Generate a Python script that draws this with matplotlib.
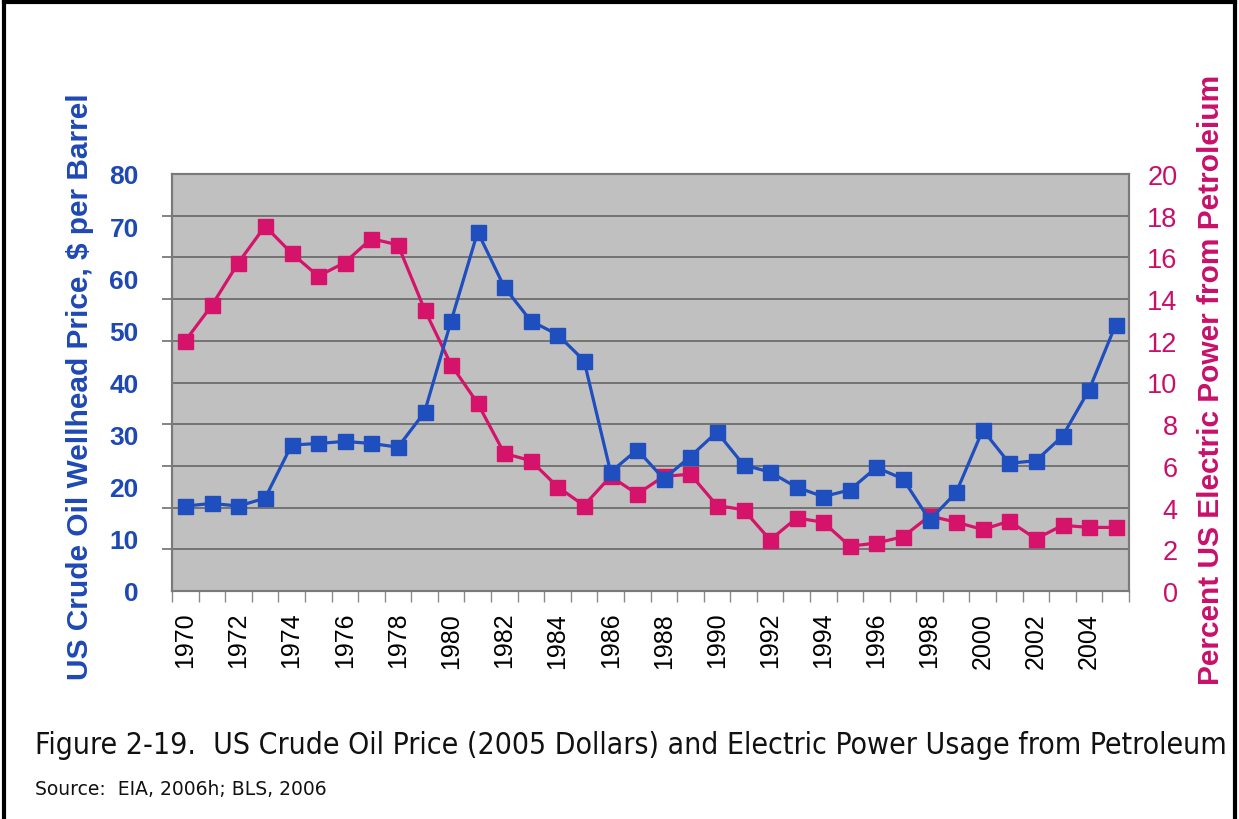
import matplotlib
matplotlib.use("Agg")
import matplotlib.pyplot as plt
from matplotlib.lines import Line2D
import numpy as np

years = list(range(1970, 2006))
oil_price = [16.3, 16.8, 16.3, 17.8, 28.0, 28.3, 28.7, 28.3, 27.6, 34.3,
             51.8, 68.9, 58.3, 51.8, 49.2, 44.2, 22.8, 27.1, 21.5, 25.8,
             30.5, 24.2, 22.8, 19.9, 18.1, 19.4, 23.7, 21.5, 13.6, 18.9,
             30.9, 24.5, 25.0, 29.7, 38.6, 51.1]
pct_petroleum = [12.0, 13.7, 15.75, 17.5, 16.2, 15.1, 15.75, 16.9, 16.6, 13.5,
                 10.85, 9.0, 6.6, 6.25, 5.0, 4.1, 5.5, 4.65, 5.5, 5.6,
                 4.1, 3.9, 2.45, 3.5, 3.3, 2.15, 2.3, 2.6, 3.6, 3.3,
                 2.95, 3.35, 2.5, 3.15, 3.05, 3.05]
left_ticks = [0, 10, 20, 30, 40, 50, 60, 70, 80]
right_ticks = [0, 2, 4, 6, 8, 10, 12, 14, 16, 18, 20]

BLUE = "#1F4EBF"
PINK = "#D5136A"
BLUE_TXT = "#1E48B4"
PINK_TXT = "#C8106A"
FONT = "Liberation Sans"

fig = plt.figure(figsize=(12.39, 8.2), dpi=100)
fig.patch.set_facecolor("white")

L, R, B, T = 172 / 1239, 1129 / 1239, 1 - 592 / 820, 1 - 175 / 820
ax2 = fig.add_axes([L, B, R - L, T - B])   # right axis (background + grid)
ax1 = fig.add_axes([L, B, R - L, T - B], sharex=ax2)  # left axis on top

ax2.set_facecolor("#C0C0C0")
ax1.patch.set_visible(False)
ax1.set_zorder(ax2.get_zorder() + 1)

x = np.arange(len(years))

# Pink series on right scale
ax2.plot(x, pct_petroleum, color=PINK, lw=2.3, marker="s", ms=10.8,
         mec=PINK, mfc=PINK, zorder=3)
ax2.set_ylim(0, 20)
ax2.set_yticks(right_ticks)
ax2.yaxis.tick_right()
ax2.grid(axis="y", color="#6E6E6E", lw=1.3)
ax2.set_axisbelow(True)
ax2.tick_params(axis="y", length=0, pad=35, labelsize=19.5, labelcolor=PINK_TXT)
for lab in ax2.get_yticklabels():
    lab.set_horizontalalignment("right")
    lab.set_fontfamily(FONT)

# Blue series on left scale
ax1.plot(x, oil_price, color=BLUE, lw=2.3, marker="s", ms=10.8,
         mec=BLUE, mfc=BLUE, zorder=3)
ax1.set_ylim(0, 80)
ax1.set_yticks(left_ticks)
ax1.set_yticks(np.arange(0, 81, 8), minor=True)
ax1.tick_params(axis="y", which="major", length=0, pad=24, labelsize=19,
                labelcolor=BLUE_TXT)
ax1.tick_params(axis="y", which="minor", length=7, width=1.2, color="#6E6E6E")
for lab in ax1.get_yticklabels():
    lab.set_fontweight("bold")
    lab.set_fontfamily(FONT)

# x axis
ax2.set_xlim(-0.5, len(years) - 0.5)
ax2.set_xticks(x[::2])
ax2.set_xticklabels([str(y) for y in years[::2]], rotation=90,
                    fontsize=18, fontfamily=FONT)
ax2.set_xticks(np.arange(-0.5, len(years), 1), minor=True)
ax2.tick_params(axis="x", which="major", length=0, pad=15)
ax2.tick_params(axis="x", which="minor", length=8, width=1.0, color="#8A8A8A")
ax1.tick_params(axis="x", which="both", length=0, labelbottom=False)

for a in (ax1, ax2):
    for s in a.spines.values():
        s.set_color("#7A7A7A")
        s.set_linewidth(1.5)

fig.text(80 / 1239, 1 - 387 / 820, "US Crude Oil Wellhead Price, $ per Barrel",
         rotation=90, ha="center", va="center", fontsize=21.5,
         fontweight="bold", color=BLUE_TXT, fontfamily=FONT)
fig.text(1211 / 1239, 1 - 380 / 820, "Percent US Electric Power from Petroleium",
         rotation=90, ha="center", va="center", fontsize=21.5,
         fontweight="bold", color=PINK_TXT, fontfamily=FONT)

fig.text(35 / 1239, 1 - 746 / 820,
         "Figure 2-19.  US Crude Oil Price (2005 Dollars) and Electric Power Usage from Petroleum",
         ha="left", va="center", fontsize=21.6, fontfamily="DejaVu Sans",
         fontstretch="condensed", color="#111111")
fig.text(35 / 1239, 1 - 790 / 820, "Source:  EIA, 2006h; BLS, 2006",
         ha="left", va="center", fontsize=13.5, fontfamily="DejaVu Sans",
         color="#111111")

# page frame: top, left, right (no bottom)
for xs, ys in [((0.003, 0.997), (0.996, 0.996)),
               ((0.003, 0.003), (0.0, 0.996)),
               ((0.997, 0.997), (0.0, 0.996))]:
    fig.add_artist(Line2D(xs, ys, transform=fig.transFigure, color="black", lw=3))

fig.savefig("out.png", dpi=100, facecolor="white")
